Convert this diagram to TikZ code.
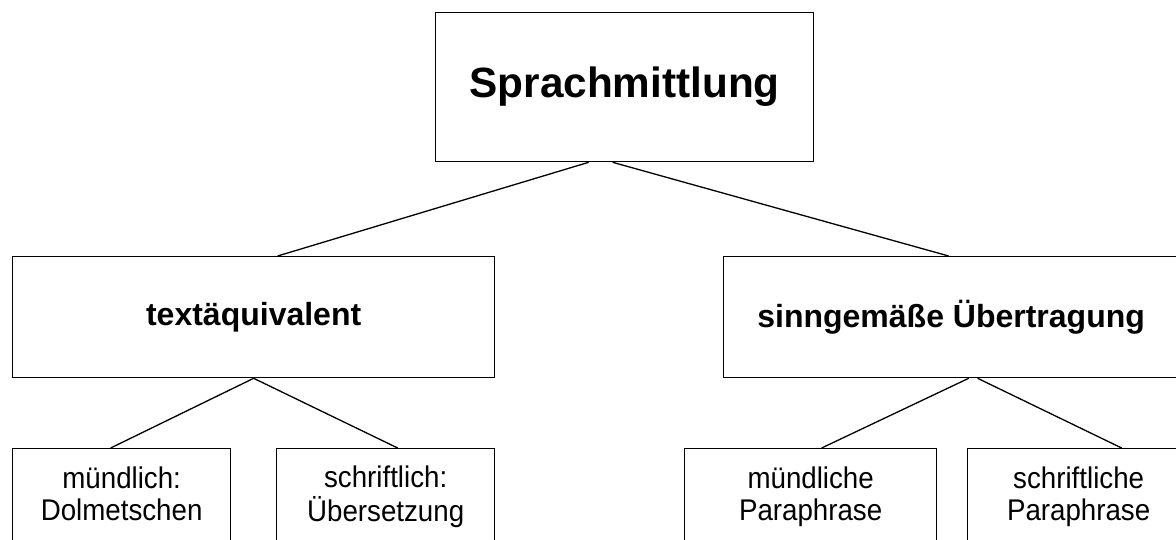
\documentclass[tikz,border=0pt]{standalone}
\usepackage{fontspec}
\setmainfont{Liberation Sans}
\newcommand{\lowtext}[2]{\scalebox{1}[1.08]{\begin{tabular}{@{}c@{}}#1\\#2\end{tabular}}}
\begin{document}
\begin{tikzpicture}[x=1pt,y=-1pt,
  box/.style={draw, line width=1.3pt, inner sep=0pt, align=center, anchor=north west},
  link/.style={draw, line width=1.3pt},
  titlefont/.style={font=\bfseries\fontsize{42.3}{48}\selectfont},
  midfont/.style={font=\bfseries\fontsize{32}{38}\selectfont},
  lowfont/.style={font=\fontsize{27.7}{29.6}\selectfont}]
\useasboundingbox (0,0) rectangle (1176,539);
\clip (0,0) rectangle (1176,539);
\node[box, titlefont, minimum width=378pt, minimum height=149pt] (top) at (435,12) {Sprachmittlung};
\node[box, midfont, minimum width=482pt, minimum height=121pt] (ml) at (12,256) {textäquivalent};
\node[box, midfont, minimum width=455pt, minimum height=121pt] (mr) at (723,256) {sinngemäße Übertragung};
\node[box, lowfont, minimum width=218pt, minimum height=99pt] (b1) at (12,448) {\lowtext{mündlich:}{Dolmetschen}};
\node[box, lowfont, minimum width=218pt, minimum height=99pt] (b2) at (276,448) {\lowtext{schriftlich:}{Übersetzung}};
\node[box, lowfont, minimum width=252pt, minimum height=99pt] (b3) at (684,448) {\lowtext{mündliche}{Paraphrase}};
\node[box, lowfont, minimum width=222pt, minimum height=99pt] (b4) at (967,448) {\lowtext{schriftliche}{Paraphrase}};
\draw[link] ([xshift=-36pt]top.south) -- ([xshift=24pt]ml.north);
\draw[link] ([xshift=-12pt]top.south) -- ([xshift=-2.5pt]mr.north);
\draw[link] (ml.south) -- ([xshift=-11pt]b1.north);
\draw[link] (ml.south) -- ([xshift=12pt]b2.north);
\draw[link] ([xshift=17.5pt]mr.south) -- ([xshift=11pt]b3.north);
\draw[link] ([xshift=26.5pt]mr.south) -- ([xshift=43pt]b4.north);
\end{tikzpicture}
\end{document}
